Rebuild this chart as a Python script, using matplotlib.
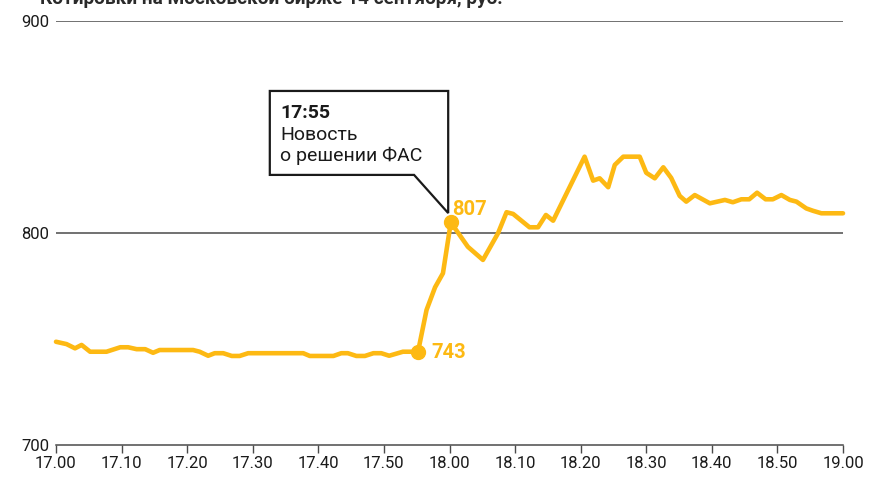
import matplotlib
matplotlib.use("Agg")
import matplotlib.pyplot as plt
from matplotlib.patches import Polygon

# --- data -------------------------------------------------------------
title = "Котировки на Московской бирже 14 сентября, руб."
minutes = [0, 1.6, 2.9, 3.9, 5.2, 7.7, 9.8, 11.0, 12.3, 13.6, 14.8, 15.8, 20.9,
           21.9, 23.2, 24.2, 25.5, 26.8, 28.0, 29.3, 37.7, 38.7, 42.3, 43.5,
           44.5, 45.8, 47.1, 48.4, 49.6, 50.8, 52.9, 54.0, 55.2, 56.5, 57.8,
           59.0, 60.2, 62.8, 65.1, 67.4, 68.7, 69.7, 72.2, 73.5, 74.7, 75.8,
           80.6, 81.9, 82.9, 84.2, 85.2, 86.5, 89.0, 90.0, 91.3, 92.6, 93.8,
           95.1, 96.1, 97.4, 99.7, 102.0, 103.2, 104.5, 105.7, 106.9, 108.2,
           109.3, 110.6, 111.9, 112.9, 114.4, 115.4, 116.7, 120]
price = [748.7, 747.6, 745.6, 747.2, 744.0, 744.0, 746.1, 746.1, 745.2, 745.2,
         743.5, 744.8, 744.8, 744.0, 742.1, 743.3, 743.3, 742.0, 742.0, 743.3,
         743.3, 742.0, 742.0, 743.3, 743.3, 742.0, 742.0, 743.3, 743.3, 742.1,
         744.0, 744.0, 744.0, 763.7, 774.4, 781.0, 805.0, 793.5, 787.3, 799.9,
         809.8, 809.0, 802.7, 802.7, 808.5, 805.8, 836.0, 824.7, 825.8, 821.6,
         832.1, 836.0, 836.0, 828.4, 825.8, 831.0, 826.0, 817.5, 814.8, 817.9,
         814.0, 815.6, 814.5, 815.9, 815.9, 819.0, 815.9, 815.9, 817.9, 815.6,
         814.8, 811.6, 810.5, 809.3, 809.3]
tick_minutes = list(range(0, 121, 10))
tick_labels = ["17.00", "17.10", "17.20", "17.30", "17.40", "17.50", "18.00",
               "18.10", "18.20", "18.30", "18.40", "18.50", "19.00"]
y_ticks = [700, 800, 900]
marked_idx = [32, 36]           # points 743 and 807
marked_labels = ["743", "807"]
note_lines = ["17:55", "Новость", "о решении ФАС"]

# --- style ------------------------------------------------------------
YEL = "#FDB913"
GRID = "#4a4a4a"
INK = "#1a1a1a"
plt.rcParams['font.family'] = ['Roboto', 'DejaVu Sans']

fig = plt.figure(figsize=(8.73, 4.93), dpi=100)
ax = fig.add_axes([56/873, 48/493, 787/873, 424/493])
ax.set_xlim(0, 120)
ax.set_ylim(700, 900)

for yv in (800, 900):
    ax.axhline(yv, color=GRID, lw=1.1, zorder=1)

ax.plot(minutes, price, color=YEL, lw=3.3, solid_joinstyle='round',
        solid_capstyle='round', zorder=3, clip_on=False)
for i in marked_idx:
    ax.plot(minutes[i], price[i], 'o', ms=10, color=YEL, zorder=4)

ax.text(minutes[marked_idx[0]] + 2.0, price[marked_idx[0]] - 0.5, marked_labels[0],
        color=YEL, fontsize=14.5, fontweight='bold', va='center', ha='left')
ax.text(minutes[marked_idx[1]] + 0.2, price[marked_idx[1]] + 6.0, marked_labels[1],
        color=YEL, fontsize=14.5, fontweight='bold', va='center', ha='left')

# callout box
box = Polygon([(32.6, 867.0), (59.8, 867.0), (59.8, 809.4), (54.6, 827.4),
               (32.6, 827.4)], closed=True, facecolor='white',
              edgecolor=INK, lw=1.6, zorder=5, joinstyle='miter')
ax.add_patch(box)
ax.text(34.2, 856.6, note_lines[0], fontsize=14, fontweight='bold',
        color=INK, va='center', ha='left', zorder=6)
ax.text(34.2, 846.4, note_lines[1], fontsize=14, color=INK,
        va='center', ha='left', zorder=6)
ax.text(34.2, 836.2, note_lines[2], fontsize=14, color=INK,
        va='center', ha='left', zorder=6)

# axes
for s in ('top', 'right', 'left'):
    ax.spines[s].set_visible(False)
ax.spines['bottom'].set_color(GRID)
ax.spines['bottom'].set_linewidth(1.1)
ax.set_xticks(tick_minutes)
ax.set_xticklabels(tick_labels)
ax.set_yticks(y_ticks)
ax.set_yticklabels([str(v) for v in y_ticks])
ax.tick_params(axis='x', direction='out', length=6, width=1, color=GRID,
               labelsize=12, labelcolor=INK, pad=2)
ax.tick_params(axis='y', length=0, labelsize=12, labelcolor=INK, pad=5)

fig.text(40/873, 1 - 4/493, title, fontsize=13.7, fontweight='bold',
         color='#2a2a2a', va='baseline', ha='left')

fig.savefig("out.png", dpi=100)
